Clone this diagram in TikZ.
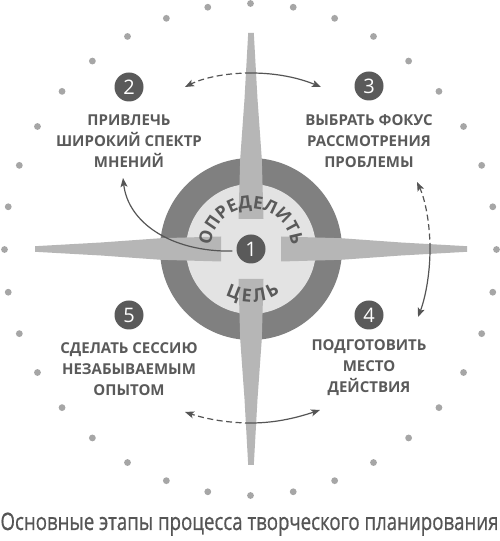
\documentclass[tikz,border=0pt]{standalone}
\usepackage{graphicx}
\usepackage{fontspec}
\setmainfont{Open Sans}
\newfontfamily\capfont{Open Sans}[FakeBold=0.8]
\usetikzlibrary{arrows.meta,decorations.text,calc}
\definecolor{ringc}{HTML}{808080}
\definecolor{discc}{HTML}{E3E3E3}
\definecolor{armc}{HTML}{B6B6B6}
\definecolor{numc}{HTML}{5A5A5A}
\definecolor{txtc}{HTML}{5A5A5A}
\definecolor{capc}{HTML}{555555}
\definecolor{dotc}{HTML}{A6A6A6}
\definecolor{arrc}{HTML}{555555}
\tikzset{
  numcirc/.style={circle, fill=numc, text=white, minimum size=29pt, inner sep=0pt, font=\fontsize{20}{20}\selectfont},
  lbl/.style={align=center, text=txtc, font=\fontsize{15}{21}\selectfont\bfseries, inner sep=0pt},
  conn/.style={draw=arrc, line width=1.2pt, -{Stealth[length=9pt,width=7pt,inset=2pt]}},
  dashconn/.style={conn, dash pattern=on 6pt off 3.5pt},
}
\begin{document}
\begin{tikzpicture}[x=1pt,y=1pt]
\useasboundingbox (0,0) rectangle (500,541);
\fill[white] (0,0) rectangle (500,541);
\coordinate (C) at (251,292);
% outer dots
\foreach \a in {0,10,...,350}
  \fill[dotc] ($(250.5,291.5)+(\a:246)$) circle (3.4);
% ring and disc
\fill[ringc] (C) circle (91);
\fill[discc] (C) circle (65);
% compass arms
\foreach \r in {0,90,180,270}{
  \fill[armc, shift={(C)}, rotate=\r]
    (-12.5,30) -- (-10.8,90) -- (-6.5,150) -- (-2.8,216) -- (2.8,216) -- (6.5,150) -- (10.8,90) -- (12.5,30) -- cycle;
}
% center
\node[numcirc] (n1) at (C) {1};
% arc texts
\path[decorate, decoration={text along path, text align=center,
  text={|\fontsize{17.5}{17.5}\selectfont\bfseries\color{txtc}|ОПРЕДЕЛИТЬ}}]
  ($(C)+(185:40.5)$) arc[start angle=185, end angle=-5, radius=40.5];
\path[decorate, decoration={text along path, text align={fit to path},
  text={|\fontsize{18}{18}\selectfont\bfseries\color{txtc}|ЦЕЛЬ}}]
  ($(C)+(241:53)$) arc[start angle=241, end angle=303, radius=53];
% number circles
\node[numcirc] (n2) at (129,454) {2};
\node[numcirc] (n3) at (369,455) {3};
\node[numcirc] (n4) at (369,226) {4};
\node[numcirc] (n5) at (129,226) {5};
% labels
\node[lbl] (l2) at (129,400) {ПРИВЛЕЧЬ\\ШИРОКИЙ СПЕКТР\\МНЕНИЙ};
\node[lbl] (l3) at (369,400) {ВЫБРАТЬ ФОКУС\\РАССМОТРЕНИЯ\\ПРОБЛЕМЫ};
\node[lbl] (l4) at (369,173) {ПОДГОТОВИТЬ\\МЕСТО\\ДЕЙСТВИЯ};
\node[lbl] (l5) at (129,172) {СДЕЛАТЬ СЕССИЮ\\НЕЗАБЫВАЕМЫМ\\ОПЫТОМ};
% arrow coordinates
\coordinate (ta) at (251,468); \coordinate (tl) at (185,454); \coordinate (tr) at (321,454);
\coordinate (rm) at (430,292); \coordinate (rt) at (417,359); \coordinate (rb) at (418,224);
\coordinate (bm) at (251,118); \coordinate (bl) at (185,129); \coordinate (br) at (320,131);
\coordinate (a2) at (123,363);
\draw[dashconn] (ta) .. controls (225,468) and (203,463) .. (tl);
\draw[conn] (ta) .. controls (277,468) and (299,463) .. (tr);
\draw[dashconn] (rm) .. controls (430,318) and (425,342) .. (rt);
\draw[conn] (rm) .. controls (430,266) and (425,242) .. (rb);
\draw[dashconn] (bm) .. controls (225,118) and (203,123) .. (bl);
\draw[conn] (bm) .. controls (277,118) and (299,124) .. (br);
\draw[conn, shorten <=4pt] (n1.188) .. controls (170,289) and (128,319) .. (a2);
% caption
\node[anchor=base, text=capc, inner sep=0pt, font=\capfont\fontsize{24}{24}\selectfont] (cap) at (249.5,11)
  {\resizebox{498pt}{\height}{Основные этапы процесса творческого планирования}};
\end{tikzpicture}
\end{document}
